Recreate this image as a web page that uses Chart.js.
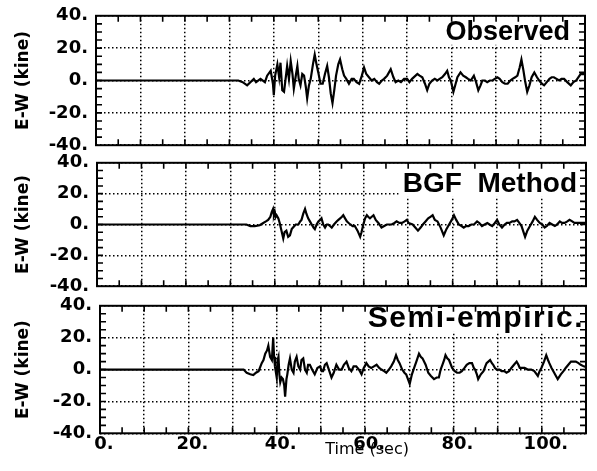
<!DOCTYPE html>
<html>
<head>
<meta charset="utf-8">
<script src="https://cdn.jsdelivr.net/npm/chart.js@4.4.1/dist/chart.umd.min.js"></script>
<style>
	html, body { margin: 0; padding: 0; background: #fff; }
	#wrap { position: relative; width: 597px; height: 471px; overflow: hidden; }
	.panel { position: absolute; left: 0; width: 597px; }
</style>
</head>
<body>
<div id="wrap">
	<div class="panel" style="top:-3px;height:167px"><canvas id="obsChart"></canvas></div>
	<div class="panel" style="top:144px;height:161px"><canvas id="bgfChart"></canvas></div>
	<div class="panel" style="top:287px;height:184px"><canvas id="semiChart"></canvas></div>
</div>
<script>
// E-W velocity records (kine) against time (sec)

const xGrid = [0, 10, 20, 30, 40, 50, 60, 70, 80, 90, 100, 110];
const xLabelled = [0, 20, 40, 60, 80, 100];
const yTicks = [-40, -20, 0, 20, 40];
const X_MAX = 110;

// [time, velocity] pairs
const observed = [
	[0, 0], [30, 0], [32, 0], [33, -1], [34, -3], [35.5, 1], [36, -1], [37, 1], [38, -1], [38.5, 3],
	[39.3, 6], [39.8, -2], [40, -9], [40.3, 3], [40.8, 10], [41.2, 2], [41.5, 11], [41.9, -6], [42.3, -7], [43, 9],
	[43.4, 1], [43.8, 12], [44.2, 4], [44.5, -5], [45, 4], [45.3, 9], [45.6, 1], [46, -3], [46.4, 4], [46.8, 3],
	[47.2, -4], [47.5, -11], [47.9, -3], [48.3, 1], [48.8, 10], [49.2, 16], [49.6, 10], [50, 5], [50.5, -2], [51, -2],
	[51.5, 4], [52, 9], [52.4, 2], [52.8, -8], [53.2, -14], [53.6, -6], [54, 3], [54.5, 10], [54.9, 13], [55.4, 7],
	[55.8, 3], [56.3, 1], [56.9, -2], [57.5, 1], [58, 1], [58.6, -1], [59.2, -2], [59.8, 3], [60.3, 8], [60.8, 4],
	[61.4, 2], [62, 0], [62.6, 1], [63.2, -1], [63.7, -2], [64.3, 0], [64.8, 1], [65.5, 3], [66.3, 7], [66.9, 2],
	[67.4, -1], [68, 0], [68.6, -1], [69.3, 1], [70, 1], [70.5, -1], [71.1, 1], [72.3, 4], [72.8, 3], [73.4, 2],
	[74, -2], [74.5, -6], [75, -2], [75.6, 0], [76.2, 1], [76.8, 0], [77.3, 1], [77.9, 2], [78.5, 4], [79, 6],
	[79.4, 2], [79.8, 0], [80.4, -7], [80.9, -2], [81.3, 2], [82, 5], [82.6, 3], [83.2, 2], [83.7, 1], [84.3, 0],
	[85, 3], [85.5, -1], [86, -6], [86.5, -3], [86.9, 0], [87.5, 0], [88, -1], [88.6, 0], [89.2, 0], [89.7, 1],
	[90.3, 2], [90.8, 1], [91.4, -1], [92, -2], [92.6, -2], [93.2, 0], [93.7, 1], [94.3, 2], [94.8, 3], [95.3, 8],
	[95.7, 13], [96.1, 7], [96.5, 0], [97, -7], [97.5, -3], [98, 2], [98.6, 5], [99.2, 2], [99.7, 0], [100.3, -2],
	[100.8, -3], [101.4, -1], [102, 1], [102.5, 2], [103, 2], [103.6, 1], [104.2, 0], [104.7, 1], [105.3, 1], [106, -1],
	[106.8, -3], [107.4, -1], [108, 0], [108.5, 2], [109, 4], [109.6, 4], [110.2, 4],
];

const bgfMethod = [
	[0, 0], [30, 0], [33.6, 0], [34.5, -1], [35.5, -1], [36.6, -0.5], [37.4, 1], [38, 2], [38.5, 3], [39, 5],
	[39.3, 8], [39.6, 10], [39.8, 6], [40, 8], [40.2, 5], [40.4, 6], [40.8, 4], [41.1, 1], [41.5, -4], [41.9, -9],
	[42.2, -5], [42.6, -4], [43, -8], [43.4, -7], [43.8, -3], [44.1, -2], [44.7, 0], [45.3, 0], [45.7, 2], [46, 3],
	[46.4, 7], [46.8, 10], [47.1, 7], [47.5, 4], [47.9, 2], [48.3, 0], [48.7, -2], [49, -3], [49.4, 0], [49.8, 2],
	[50.2, 3], [50.5, 4], [50.9, 0], [51.3, -2], [51.7, 0], [52, 0], [52.4, -1], [52.8, -2], [53.3, 0], [53.9, 2],
	[54.3, 3], [54.7, 4], [55.1, 5], [55.4, 6], [55.8, 4], [56.2, 2], [56.6, 1], [57, 0], [57.5, -1], [58, -1],
	[58.6, -4], [59.2, -8], [59.5, -5], [59.9, 0], [60.3, 4], [60.7, 6], [61, 5], [61.4, 4], [61.8, 5], [62.2, 6],
	[62.7, 3], [63.3, 1], [64, -2], [64.6, -1], [65.2, 0], [65.8, 0], [66.3, 0], [66.9, 1], [67.4, 2], [68, 1],
	[68.6, 1], [69.2, 2], [69.7, 3], [70.1, 1], [71, 0], [71.6, -2], [72.2, -4], [72.8, -2], [73.3, 0], [73.9, 2],
	[74.5, 4], [75, 5], [75.5, 6], [76, 3], [76.6, 2], [77.3, -2], [78, -7], [78.6, -3], [79.2, 0], [79.8, 3],
	[80.3, 6], [80.8, 3], [81.4, 0], [82, -1], [82.5, -2], [83, -1], [83.6, -1], [84.2, 0], [84.8, 0], [85.5, 2],
	[86, 1], [86.6, -1], [87.2, 0], [87.8, 1], [88.3, 0], [88.9, -1], [89.5, 1], [90, 3], [90.5, 0], [91.1, -2],
	[91.7, 0], [92.2, 1], [92.8, 1], [93.4, 2], [93.9, 2], [94.5, 3], [95, 1], [95.5, -1], [96.3, -8], [96.8, -4],
	[97.4, -1], [98, 2], [98.5, 5], [99, 3], [99.6, 1], [100.2, 0], [100.7, -2], [101.2, -1], [101.8, 1], [102.4, 0],
	[103, -1], [103.5, 0], [104.1, 2], [104.6, 1], [105.2, 1], [105.8, 2], [106.3, 3], [106.9, 2], [107.4, 1], [108, 1],
	[108.5, 1], [109.5, 1], [110.5, 1],
];

const semiEmpirical = [
	[0, 0], [30, 0], [32.5, 0], [33.2, -2], [34, -3], [34.7, -3.5], [35.3, -2], [35.9, -1], [36.6, 4], [37, 6],
	[37.4, 10], [37.8, 12], [38.1, 15], [38.5, 8], [38.9, 6], [39.2, 20], [39.4, 8], [39.6, 2], [40, -5], [40.2, 6],
	[40.4, 8], [40.6, -3], [40.8, -8], [41.1, -5], [41.4, -6], [41.7, -10], [41.9, -17], [42.2, -6], [42.4, -3], [42.7, 3],
	[43, 7], [43.4, 0], [43.8, -2], [44.1, 5], [44.5, 8], [44.9, 2], [45.3, 0], [45.6, 6], [46, 7], [46.4, 0],
	[46.8, -2], [47.1, 3], [47.5, 3], [48, 0], [48.6, -3], [49.2, 1], [49.8, 2], [50.2, -1], [50.5, -1], [50.9, 3],
	[51.3, 4], [51.8, 0], [52.4, -5], [52.9, -2], [53.5, 3], [54.1, 0], [54.7, 0], [55.2, 3], [55.8, 5], [56.3, 1],
	[56.9, -1], [57.4, 2], [58, 2], [58.6, 0], [59.2, -3], [59.7, 1], [60.3, 4], [60.8, 2], [61.4, 1], [62, 2],
	[62.6, 3], [63.2, 1], [63.7, 0], [64.3, -1], [64.8, -2], [65.4, 0], [65.9, 2], [66.5, 5], [67, 9], [67.4, 6],
	[67.8, 4], [68.4, 0], [68.9, -2], [69.3, -3], [69.7, -6], [70.1, -9], [70.6, -3], [71.1, 1], [71.6, 5], [72.2, 10],
	[72.6, 8], [73, 7], [73.7, 3], [74.3, -2], [74.9, -4], [75.6, -6], [76.2, -5], [76.7, -5], [77.1, 0], [77.5, 3],
	[77.9, 6], [78.2, 9], [78.6, 7], [79, 6], [79.7, 1], [80.3, -1], [80.8, -2], [81.4, -2], [81.9, -1], [82.5, 1],
	[83, 3], [83.6, 4], [84.2, 4], [84.6, 1], [84.9, 0], [85.3, -3], [85.6, -6], [86.2, -3], [86.8, -1], [87.2, 2],
	[87.5, 4], [87.9, 5], [88.3, 6], [88.7, 4], [89, 3], [89.4, 1], [89.8, 0], [90.4, 0], [90.9, -1], [91.5, -1],
	[92, -2], [92.6, -1], [93.1, 1], [93.7, 3], [94.3, 5], [94.7, 3], [95, 1], [95.6, 1], [96.1, 1], [96.8, 0],
	[97.6, 0], [98.3, -1], [99.1, -4], [99.5, -1], [99.9, 1], [100.5, 5], [101, 9], [101.4, 6], [101.7, 4], [102.2, 1],
	[102.8, -2], [103.2, -4], [103.6, -6], [104.3, -3], [104.9, -1], [105.4, 1], [106, 3], [106.6, 5], [107.2, 5], [107.7, 5],
	[108.3, 4], [108.8, 3], [109.5, 2], [110.5, 1],
];

Chart.defaults.font.family = "'DejaVu Sans', sans-serif";
Chart.defaults.color = "#000";

// frame, inward tick marks, panel caption and the time label
const framePlugin = {
	id: "frame",
	afterDraw(chart, args, opts) {
		const { ctx, chartArea: a, scales } = chart;
		const x = scales.x;
		const y = scales.y;
		ctx.save();

		// caption on a white box, hiding the grid behind it
		ctx.font = opts.font;
		if ("letterSpacing" in ctx) ctx.letterSpacing = opts.spacing || "0px";
		ctx.textAlign = "right";
		ctx.textBaseline = "alphabetic";
		const w = ctx.measureText(opts.label).width;
		const bx = a.right - opts.inset;
		const by = a.top + opts.baseline;
		ctx.fillStyle = "#fff";
		ctx.fillRect(bx - w - 4, a.top + 1, w + 6, opts.baseline + 4);
		ctx.fillStyle = "#000";
		ctx.fillText(opts.label, bx, by);
		if ("letterSpacing" in ctx) ctx.letterSpacing = "0px";

		ctx.strokeStyle = "#000";
		ctx.lineWidth = 2;
		ctx.strokeRect(a.left, a.top, a.width, a.height);

		ctx.lineWidth = 1.6;
		ctx.beginPath();
		for (let v = 5; v < X_MAX; v += 5) {
			const px = x.getPixelForValue(v);
			ctx.moveTo(px, a.top);
			ctx.lineTo(px, a.top + 6);
			ctx.moveTo(px, a.bottom);
			ctx.lineTo(px, a.bottom - 6);
		}
		for (let v = -35; v < 40; v += 5) {
			const py = y.getPixelForValue(v);
			ctx.moveTo(a.left, py);
			ctx.lineTo(a.left + 6, py);
			ctx.moveTo(a.right, py);
			ctx.lineTo(a.right - 6, py);
		}
		ctx.stroke();

		if (opts.showTime) {
			ctx.font = "16px 'DejaVu Sans'";
			ctx.textAlign = "center";
			ctx.textBaseline = "middle";
			ctx.fillText("Time (sec)", x.getPixelForValue(60) + 2, a.bottom + 17);
		}
		ctx.restore();
	},
};

const makePanel = (canvasId, series, caption, box) => {
	return new Chart(document.getElementById(canvasId), {
		type: "line",
		data: {
			datasets: [
				{
					data: series.map(([t, v]) => ({ x: t, y: v })),
					borderColor: "#000",
					borderWidth: 2.2,
					pointRadius: 0,
					tension: 0,
					fill: false,
				},
			],
		},
		options: {
			animation: false,
			responsive: true,
			maintainAspectRatio: false,
			layout: {
				padding: { top: 0, bottom: 0, left: 0, right: box.right },
			},
			plugins: {
				legend: { display: false },
				tooltip: { enabled: false },
				frame: caption,
			},
			scales: {
				x: {
					type: "linear",
					min: 0,
					max: X_MAX,
					afterBuildTicks: (s) => {
						s.ticks = xGrid.map((v) => ({ value: v }));
					},
					afterFit: (s) => {
						s.height = caption.showTime ? box.axisHeight : 0;
					},
					ticks: {
						display: !!caption.showTime,
						autoSkip: false,
						maxRotation: 0,
						padding: 0,
						labelOffset: 4,
						font: { size: 18, weight: "bold" },
						callback: (v) => (xLabelled.includes(v) ? `${v}.` : ""),
					},
					grid: { color: "#000", lineWidth: 1.5, drawTicks: false },
					border: { display: false, dash: [1.5, 2.5] },
				},
				y: {
					min: -40,
					max: 40,
					afterBuildTicks: (s) => {
						s.ticks = yTicks.map((v) => ({ value: v }));
					},
					afterFit: (s) => {
						s.width = box.left;
					},
					ticks: {
						padding: 8,
						font: { size: 18, weight: "bold" },
						callback: (v) => `${v}.`,
					},
					grid: { color: "#000", lineWidth: 1.5, drawTicks: false },
					border: { display: false, dash: [1.5, 2.5] },
					title: {
						display: true,
						text: "E-W (kine)",
						font: { size: 17, weight: "bold" },
						padding: { top: 13, bottom: 0 },
					},
				},
			},
		},
		plugins: [framePlugin],
	});
};

makePanel(
	"obsChart",
	observed,
	{ label: "Observed", font: "bold 27px 'Liberation Sans'", inset: 15, baseline: 24 },
	{ left: 96, right: 12 },
);
makePanel(
	"bgfChart",
	bgfMethod,
	{ label: "BGF  Method", font: "bold 28px 'Liberation Sans'", inset: 9, baseline: 29 },
	{ left: 97, right: 11 },
);
makePanel(
	"semiChart",
	semiEmpirical,
	{ label: "Semi-empiric.", font: "bold 30px 'Liberation Sans'", spacing: "1.5px", inset: 2, baseline: 21, showTime: true },
	{ left: 100, right: 11, axisHeight: 37.7 },
);
</script>
</body>
</html>
